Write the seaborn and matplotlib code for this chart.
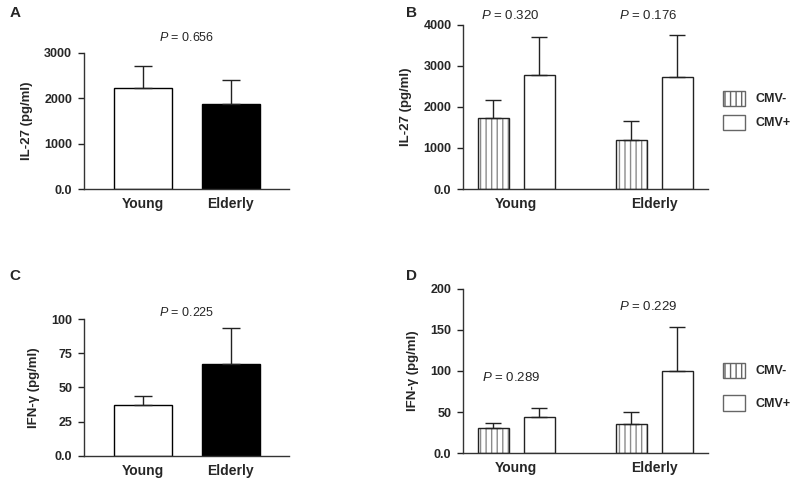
import numpy as np
import pandas as pd
import matplotlib
matplotlib.use("Agg")
import matplotlib.pyplot as plt
from matplotlib.patches import Patch, Rectangle
import seaborn as sns

# ==========================================
# data (mean + SEM, upper error only)
# ==========================================
GROUPS = ["Young", "Elderly"]
CMV = ["CMV-", "CMV+"]

# A: IL-27 by age
il27_mean = [2220, 1880]
il27_sem = [490, 520]

# B: IL-27 by age and CMV status (values listed Young, Elderly)
il27_cmv_neg_mean = [1730, 1200]
il27_cmv_neg_sem = [440, 450]
il27_cmv_pos_mean = [2770, 2730]
il27_cmv_pos_sem = [940, 1020]

# C: IFN-g by age
ifng_mean = [37, 67]
ifng_sem = [6.5, 26.5]

# D: IFN-g by age and CMV status
ifng_cmv_neg_mean = [30.5, 35.5]
ifng_cmv_neg_sem = [6, 15]
ifng_cmv_pos_mean = [43.5, 100.5]
ifng_cmv_pos_sem = [11.5, 53]

P_A = "0.656"
P_B = ["0.320", "0.176"]
P_C = "0.225"
P_D = ["0.289", "0.229"]

# ==========================================
# style
# ==========================================
sns.set_style("ticks")
plt.rcParams["font.family"] = ["Liberation Sans", "DejaVu Sans"]
plt.rcParams["mathtext.fontset"] = "custom"
plt.rcParams["mathtext.it"] = "Liberation Sans:italic"
plt.rcParams["mathtext.rm"] = "Liberation Sans"
plt.rcParams["hatch.linewidth"] = 1.0

EDGE = "#222222"
HATCH = "#8c8c8c"


def style_axis(ax, ticks, labels, ylabel, xlim):
    ax.set_ylim(ticks[0], ticks[-1])
    ax.set_yticks(ticks)
    ax.set_yticklabels(labels, fontsize=9, fontweight="bold")
    ax.set_xlim(*xlim)
    ax.set_xlabel("")
    ax.set_ylabel(ylabel, fontsize=9.5, fontweight="bold", labelpad=8)
    ax.tick_params(axis="x", length=0, pad=6)
    ax.tick_params(axis="y", length=4.5, width=1, pad=4, color=EDGE)
    for lbl in ax.get_xticklabels():
        lbl.set_fontsize(10)
        lbl.set_fontweight("bold")
    sns.despine(ax=ax)
    for s in ["left", "bottom"]:
        ax.spines[s].set_linewidth(1)
        ax.spines[s].set_color("#333333")


def add_errors(ax, bars, errs, capsize):
    xs = [b.get_x() + b.get_width() / 2 for b in bars]
    ys = [b.get_height() for b in bars]
    ax.errorbar(xs, ys, yerr=[np.zeros(len(errs)), errs], fmt="none",
                ecolor=EDGE, elinewidth=1, capsize=capsize, capthick=1, zorder=3)


def simple_panel(ax, means, sems, ticks, labels, ylabel, p, p_y):
    df = pd.DataFrame({"group": GROUPS, "value": means})
    sns.barplot(data=df, x="group", y="value", hue="group", palette=["white", "black"],
                edgecolor="black", linewidth=1, width=0.66, errorbar=None,
                legend=False, ax=ax)
    add_errors(ax, ax.patches, sems, capsize=6.5)
    style_axis(ax, ticks, labels, ylabel, (-0.67, 1.66))
    ax.text(0.5, p_y, r"$\it{P}$ = " + p, ha="center", va="center",
            fontsize=9, clip_on=False)


def cmv_panel(ax, neg_mean, neg_sem, pos_mean, pos_sem, ticks, labels, ylabel, ps, p_ys,
              leg_y, leg_space):
    df = pd.DataFrame({
        "group": GROUPS * 2,
        "status": [CMV[0]] * 2 + [CMV[1]] * 2,
        "value": list(neg_mean) + list(pos_mean),
    })
    sns.barplot(data=df, x="group", y="value", hue="status", hue_order=CMV,
                palette=["white", "white"], edgecolor=EDGE, linewidth=1,
                width=0.667, gap=0.32, errorbar=None, legend=False, ax=ax)
    neg_bars, pos_bars = ax.containers[0], ax.containers[1]
    # hatched bars: grey hatch, dark outline on top
    for b in neg_bars:
        b.set_hatch("|||")
        b.set_edgecolor(HATCH)
        b.set_linewidth(0)
        ax.add_patch(Rectangle((b.get_x(), b.get_y()), b.get_width(), b.get_height(),
                               fill=False, edgecolor=EDGE, linewidth=1, zorder=2.5))
    add_errors(ax, list(neg_bars), neg_sem, capsize=5.5)
    add_errors(ax, list(pos_bars), pos_sem, capsize=5.5)
    style_axis(ax, ticks, labels, ylabel, (-0.385, 1.39))
    for i, (p, py) in enumerate(zip(ps, p_ys)):
        ax.text(i - 0.04, py, r"$\it{P}$ = " + p, ha="center", va="center",
                fontsize=9.5, clip_on=False)
    handles = [Patch(facecolor="white", edgecolor="#666666", hatch="|||", linewidth=1),
               Patch(facecolor="white", edgecolor="#666666", linewidth=1)]
    ax.legend(handles, CMV, loc="center left", bbox_to_anchor=(1.06, leg_y),
              frameon=False, borderaxespad=0, borderpad=0,
              handlelength=1.8, handleheight=1.5,
              handletextpad=0.85, labelspacing=leg_space,
              prop={"size": 9, "weight": "bold"})


fig = plt.figure(figsize=(8, 4.84), dpi=100)

ax_a = fig.add_axes([0.105, 0.6095, 0.256, 0.281])
ax_b = fig.add_axes([0.579, 0.6095, 0.306, 0.339])
ax_c = fig.add_axes([0.105, 0.0579, 0.256, 0.283])
ax_d = fig.add_axes([0.579, 0.064, 0.306, 0.339])

simple_panel(ax_a, il27_mean, il27_sem, [0, 1000, 2000, 3000],
             ["0.0", "1000", "2000", "3000"], "IL-27 (pg/ml)", P_A, 3350)
cmv_panel(ax_b, il27_cmv_neg_mean, il27_cmv_neg_sem, il27_cmv_pos_mean, il27_cmv_pos_sem,
          [0, 1000, 2000, 3000, 4000], ["0.0", "1000", "2000", "3000", "4000"],
          "IL-27 (pg/ml)", P_B, [4240, 4240], 0.48, 0.7)
simple_panel(ax_c, ifng_mean, ifng_sem, [0, 25, 50, 75, 100],
             ["0.0", "25", "50", "75", "100"], "IFN-\u03b3 (pg/ml)", P_C, 105)
cmv_panel(ax_d, ifng_cmv_neg_mean, ifng_cmv_neg_sem, ifng_cmv_pos_mean, ifng_cmv_pos_sem,
          [0, 50, 100, 150, 200], ["0.0", "50", "100", "150", "200"],
          "IFN-\u03b3 (pg/ml)", P_D, [92, 179], 0.405, 1.4)

for letter, x, y in [("A", 0.012, 0.973), ("B", 0.508, 0.973),
                     ("C", 0.012, 0.43), ("D", 0.508, 0.43)]:
    fig.text(x, y, letter, fontsize=11, fontweight="bold", ha="left", va="center")

fig.savefig("out.png", dpi=100)
